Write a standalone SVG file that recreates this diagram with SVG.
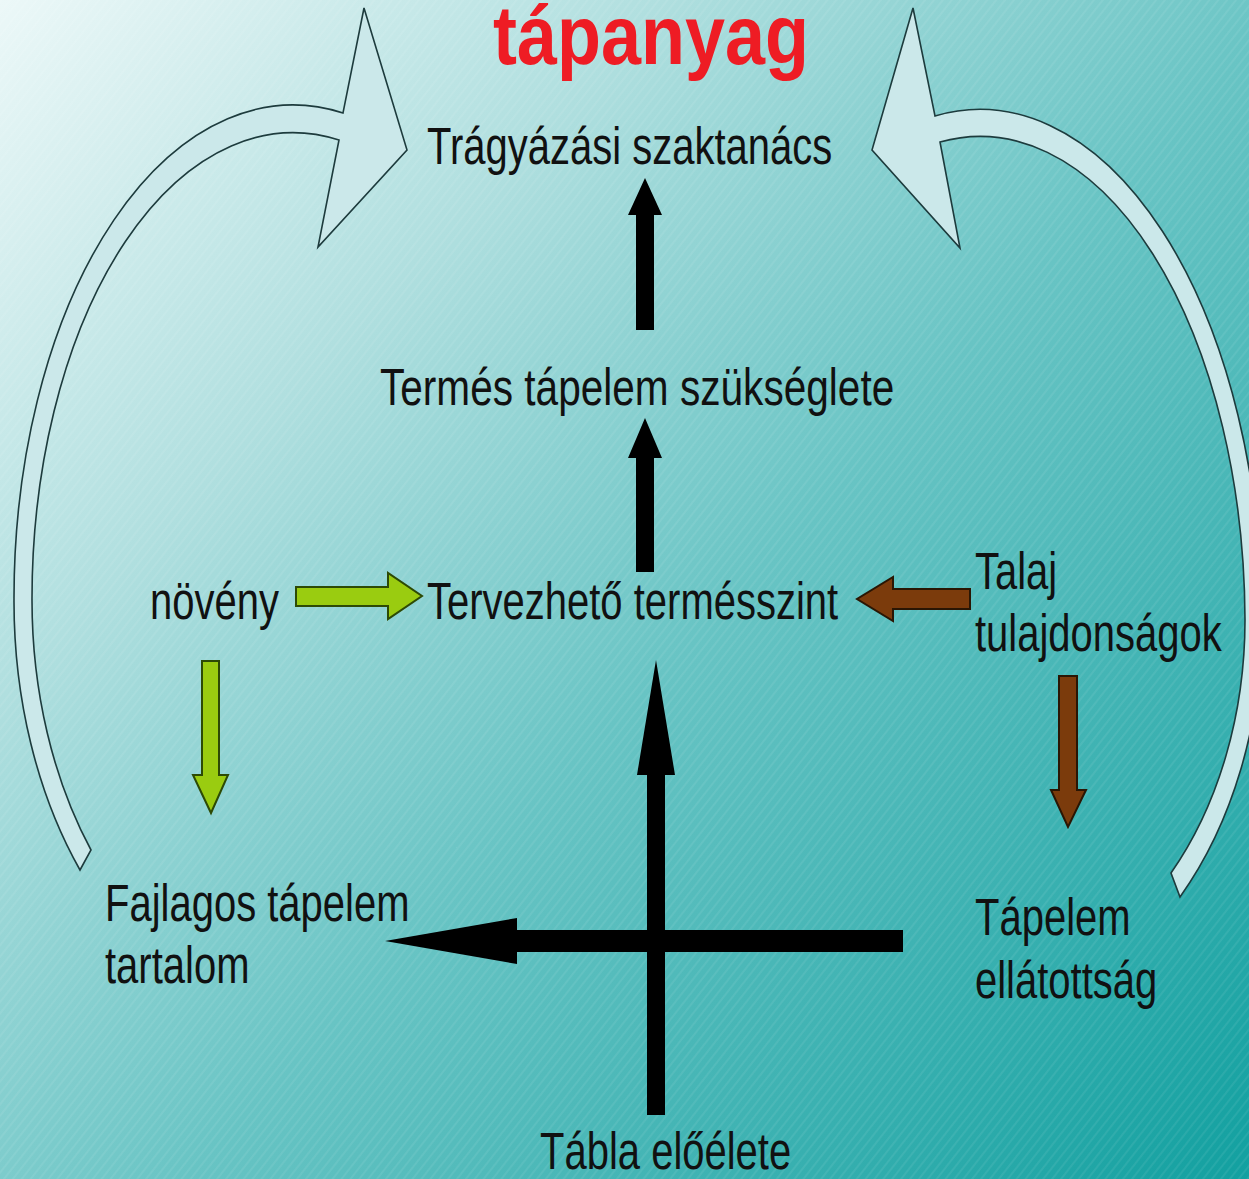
<svg xmlns="http://www.w3.org/2000/svg" width="1249" height="1179" viewBox="0 0 1249 1179">
<defs>
<linearGradient id="bg" x1="0" y1="0" x2="1249" y2="1179" gradientUnits="userSpaceOnUse">
<stop offset="0" stop-color="#ecf8f8"/>
<stop offset="0.28" stop-color="#b0dfdf"/>
<stop offset="0.55" stop-color="#68c4c4"/>
<stop offset="1" stop-color="#12a0a0"/>
</linearGradient>
<pattern id="stripes" patternUnits="userSpaceOnUse" width="7" height="7" patternTransform="rotate(-52)">
<rect x="0" y="0" width="7" height="2" fill="#ffffff" fill-opacity="0.07"/>
</pattern>
<style>
.lbl{font-family:"Liberation Sans",Arial,sans-serif;font-size:40px;fill:#111111}
.title{font-family:"Liberation Sans",Arial,sans-serif;font-size:72px;font-weight:bold;fill:#ee1c24}
.curved{fill:#cbe8ea;stroke:#1d3b3d;stroke-width:1.6;stroke-linejoin:miter}
.blk{fill:#000000}
.grn{fill:#9acc10;stroke:#2d4a05;stroke-width:2}
.brn{fill:#7b3b0c;stroke:#2a1604;stroke-width:2}
</style>
</defs>
<rect x="0" y="0" width="1249" height="1179" fill="url(#bg)"/>
<rect x="0" y="0" width="1249" height="1179" fill="url(#stripes)"/>

<g id="connectors">
<path id="curve-left" class="curved" d="M 364,8 L 407,150 L 318,247 L 339,140 A 261 466 0 0 0 32,600 A 268 399 0 0 0 91,850 L 80,870 A 286 420 0 0 1 14,600 A 279 493 0 0 1 343,113 Z"/>
<path id="curve-right" class="curved" d="M 913,8 L 872,150 L 960,248 L 940,142 A 265 486 0 0 1 1245,620 A 265 365 0 0 1 1171,873 L 1180,897 A 282 393 0 0 0 1262,620 A 282 513 0 0 0 935,116 Z"/>
<polygon id="arrow-termes-tragyazas" class="blk" points="636,330 636,215 628,215 645,178 662,215 654,215 654,330"/>
<polygon id="arrow-tervezheto-termes" class="blk" points="636,572 636,458 628,458 645,418 662,458 654,458 654,572"/>
<polygon id="arrow-tabla-tervezheto" class="blk" points="647,1115 647,775 637,775 656,660 675,775 665,775 665,1115"/>
<polygon id="arrow-tapelem-fajlagos" class="blk" points="903,930 517,930 517,918 385,941 517,964 517,952 903,952"/>
<polygon id="arrow-noveny-tervezheto" class="grn" points="296,587 388,587 388,573 422,596 388,619 388,606 296,606"/>
<polygon id="arrow-noveny-fajlagos" class="grn" points="202,661 219,661 219,775 228,775 211,813 193,775 202,775"/>
<polygon id="arrow-talaj-tervezheto" class="brn" points="970,589 893,589 893,577 857,599 893,621 893,609 970,609"/>
<polygon id="arrow-talaj-tapelem" class="brn" points="1059,676 1077,676 1077,790 1086,790 1068,827 1051,790 1059,790"/>
</g>

<g id="node-tapanyag"><text class="title" transform="translate(493,64) scale(1,1.15)">tápanyag</text></g>
<g id="node-tragyazasi"><text class="lbl" transform="translate(427,164) scale(1,1.3)">Trágyázási szaktanács</text></g>
<g id="node-termes"><text class="lbl" transform="translate(380,405) scale(1.015,1.3)">Termés tápelem szükséglete</text></g>
<g id="node-noveny"><text class="lbl" transform="translate(150,619) scale(1,1.3)">növény</text></g>
<g id="node-tervezheto"><text class="lbl" transform="translate(427,619) scale(1,1.3)">Tervezhető termésszint</text></g>
<g id="node-talaj">
<text class="lbl" transform="translate(975,589) scale(1,1.3)">Talaj</text>
<text class="lbl" transform="translate(975,651) scale(1,1.3)">tulajdonságok</text>
</g>
<g id="node-fajlagos">
<text class="lbl" transform="translate(105,921) scale(1,1.3)">Fajlagos tápelem</text>
<text class="lbl" transform="translate(105,983) scale(1,1.3)">tartalom</text>
</g>
<g id="node-tapelem">
<text class="lbl" transform="translate(975,935) scale(1,1.3)">Tápelem</text>
<text class="lbl" transform="translate(975,998) scale(1,1.3)">ellátottság</text>
</g>
<g id="node-tabla"><text class="lbl" transform="translate(540,1169) scale(1,1.3)">Tábla előélete</text></g>
</svg>
